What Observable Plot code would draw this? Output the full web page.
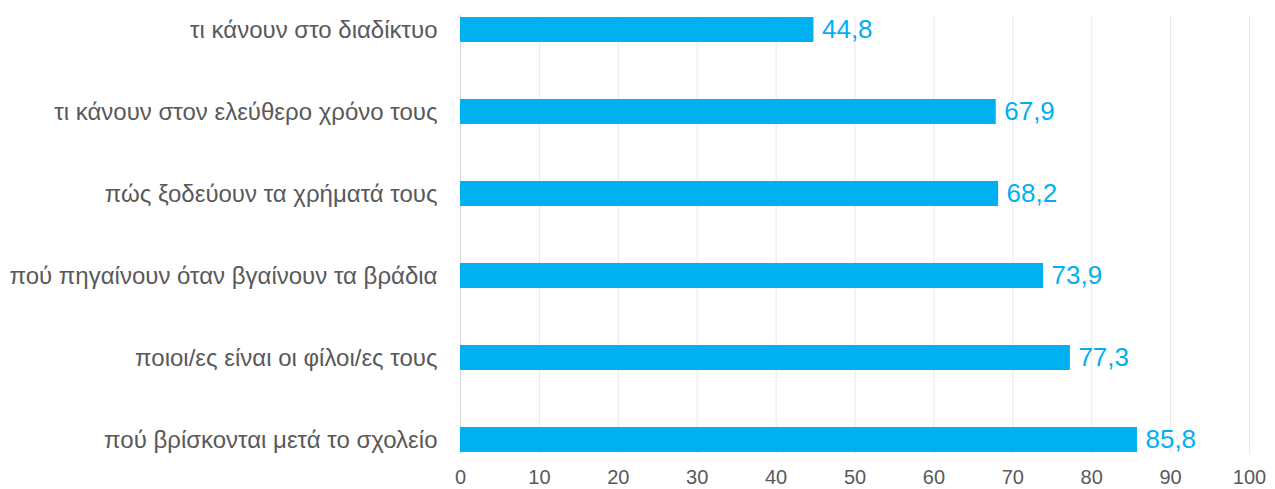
<!DOCTYPE html>
<html><head><meta charset="utf-8">
<script src="https://cdn.jsdelivr.net/npm/d3@7"></script>
<script src="https://cdn.jsdelivr.net/npm/@observablehq/plot@0.6"></script>
<style>
body{margin:0;background:#fff}
#chart svg{font-family:"Liberation Sans",Arial,sans-serif}
</style>
</head><body><div id="chart"></div>
<script>
const categories = [
  "τι κάνουν στο διαδίκτυο",
  "τι κάνουν στον ελεύθερο χρόνο τους",
  "πώς ξοδεύουν τα χρήματά τους",
  "πού πηγαίνουν όταν βγαίνουν τα βράδια",
  "ποιοι/ες είναι οι φίλοι/ες τους",
  "πού βρίσκονται μετά το σχολείο"
];
const values = [44.8, 67.9, 68.2, 73.9, 77.3, 85.8];
const xTicks = [0, 10, 20, 30, 40, 50, 60, 70, 80, 90, 100];

const data = categories.map((c, i) => ({
  category: c,
  value: values[i],
  label: values[i].toFixed(1).replace(".", ",")
}));

const chart = Plot.plot({
  width: 1275,
  height: 489,
  marginLeft: 460,
  marginRight: 26,
  marginTop: 15,
  marginBottom: 35,
  x: {domain: [0, 100], label: null},
  y: {domain: categories, paddingInner: 0.698, paddingOuter: 0, label: null},
  marks: [
    Plot.gridX(xTicks, {stroke: "#e8e8e8", strokeOpacity: 1}),
    Plot.ruleX([0], {stroke: "#d9d9d9"}),
    Plot.barX(data, {x: "value", y: "category", fill: "#00B0F0"}),
    Plot.text(data, {x: "value", y: "category", text: "label", dx: 8, textAnchor: "start", fill: "#00B0F0", fontSize: 26}),
    Plot.axisX(xTicks, {tickSize: 0, tickPadding: 15, fontSize: 20, fill: "#595959", label: null}),
    Plot.axisY({tickSize: 0, tickPadding: 23, fontSize: 24, fill: "#595959", label: null})
  ]
});
document.getElementById("chart").appendChild(chart);
</script>
</body></html>
